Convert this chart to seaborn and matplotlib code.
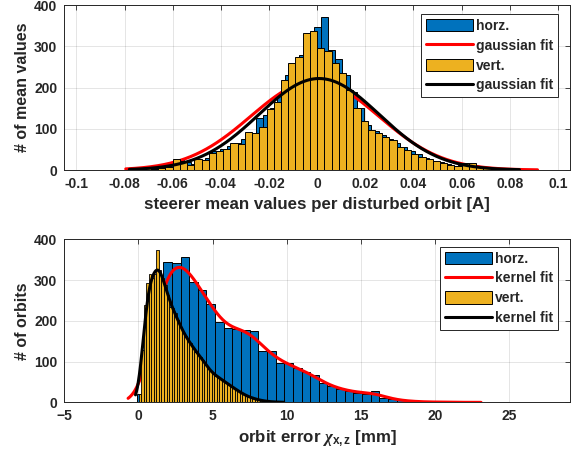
import numpy as np
import pandas as pd
import seaborn as sns
import matplotlib
matplotlib.use("Agg")
import matplotlib.pyplot as plt
from matplotlib.patches import Patch
from matplotlib.lines import Line2D

# ---------------- data: steerer mean values (top panel) ----------------
steer_bin_width = 0.003
# vertical plane: bins [k*w, (k+1)*w], k = -26 .. 27
vert_steer_first_bin = -26
vert_steer_counts = [2, 4, 4, 3, 5, 8, 26, 22, 12, 26, 24, 42, 47, 51, 65, 62,
                     93, 90, 104, 148, 166, 218, 259, 275, 333, 338,
                     297, 289, 259, 234, 194, 150, 120, 97, 90, 81, 73, 55, 48,
                     39, 31, 26, 23, 18, 13, 10, 16, 17, 8, 6, 3, 2, 5, 2]
# horizontal plane: bins centred on j*w, j = -26 .. 30
horz_steer_first_bin = -26
horz_steer_counts = [2, 2, 4, 3, 12, 8, 14, 24, 20, 14, 25, 30, 45, 52, 58, 66,
                     75, 90, 125, 133, 150, 180, 230, 250, 280, 333, 347, 370,
                     290, 270, 230, 190, 150, 110, 95, 85, 75, 65, 55, 45, 38,
                     28, 22, 20, 14, 10, 12, 8, 6, 3, 3, 2, 4, 0, 0, 0, 3]
# gaussian fit parameters (mean, sigma) in A
horz_fit = (-0.001, 0.0265)
vert_fit = (0.0008, 0.0250)

# ---------------- data: orbit error (bottom panel) ----------------
horz_err_start, horz_err_width = -0.08, 0.583
horz_err_counts = [20, 120, 280, 345, 343, 357, 296, 275, 241, 198, 182, 180,
                   178, 175, 125, 125, 96, 96, 84, 75, 67, 47, 40, 32, 29, 24,
                   21, 29, 12, 8, 5, 3, 2, 1, 1, 1, 1, 0, 0, 1]
vert_err_start, vert_err_width = 0.02, 0.17
vert_err_counts = [22, 129, 239, 292, 316, 304, 316, 375, 325, 304, 288, 263,
                   235, 231, 219, 202, 186, 174, 162, 153, 145, 137, 124, 120,
                   112, 104, 92, 84, 76, 71, 66, 62, 58, 53, 50, 45, 40, 36,
                   33, 28, 24, 20, 17, 14, 12, 10, 8, 6, 5, 4, 3, 2, 2, 1, 1,
                   1, 0, 1]

horz_kernel_bw, vert_kernel_bw = 0.75, 0.30
horz_kernel_range = (-0.7, 23.1)
vert_kernel_range = (-0.2, 9.8)

steer_ticks = [-0.1, -0.08, -0.06, -0.04, -0.02, 0, 0.02, 0.04, 0.06, 0.08, 0.1]
steer_tick_labels = ["-0.1", "-0.08", "-0.06", "-0.04", "-0.02", "0", "0.02",
                     "0.04", "0.06", "0.08", "0.1"]
err_ticks = [-5, 0, 5, 10, 15, 20, 25]
count_ticks = [0, 100, 200, 300, 400]

BLUE = "#0072BD"
YELLOW = "#EDB120"
INK = "#262626"

sns.set_style("white")
plt.rcParams["font.family"] = ["Liberation Sans", "DejaVu Sans"]
plt.rcParams["font.weight"] = "bold"
plt.rcParams["mathtext.fontset"] = "custom"
plt.rcParams["mathtext.rm"] = "Liberation Sans:bold"
plt.rcParams["mathtext.bf"] = "Liberation Sans:bold"
plt.rcParams["mathtext.it"] = "Liberation Serif:italic"


def edges_from(start, width, n):
    return start + width * np.arange(n + 1)


def draw_hist(ax, edges, counts, color, z, lw=0.7):
    counts = [float(v) for v in counts]
    centers = [0.5 * (a + b) for a, b in zip(edges[:-1], edges[1:])]
    df = pd.DataFrame({"x": centers, "n": counts})
    sns.histplot(data=df, x="x", weights="n", bins=[float(e) for e in edges],
                 color=color, edgecolor="black", linewidth=lw, alpha=1.0,
                 ax=ax, zorder=z)


def gauss_curve(edges, counts, fit):
    mu, sd = fit
    n = float(np.sum(counts))
    w = edges[1] - edges[0]
    x = np.linspace(edges[0], edges[-1], 400)
    y = n * w / (sd * np.sqrt(2 * np.pi)) * np.exp(-0.5 * ((x - mu) / sd) ** 2)
    return x, y


def kernel_curve(edges, counts, bw, xr):
    counts = np.asarray(counts, float)
    c = 0.5 * (edges[:-1] + edges[1:])
    w = edges[1] - edges[0]
    x = np.linspace(xr[0], xr[1], 500)
    k = np.exp(-0.5 * ((x[:, None] - c[None, :]) / bw) ** 2) / (bw * np.sqrt(2 * np.pi))
    y = (k * counts[None, :]).sum(axis=1) * w
    return x, y


def style_axes(ax):
    ax.set_axisbelow(True)
    ax.grid(True, color="black", alpha=0.12, linewidth=0.6)
    for s in ax.spines.values():
        s.set_color(INK)
        s.set_linewidth(0.7)
        s.set_visible(True)
    ax.tick_params(direction="in", top=True, right=True, length=3.5, width=0.6,
                   colors=INK, labelsize=10, pad=5)
    for t in ax.get_xticklabels() + ax.get_yticklabels():
        t.set_fontweight("bold")


fig = plt.figure(figsize=(5.88, 4.57), dpi=100)
ax1 = fig.add_axes([0.1094, 0.628, 0.8600, 0.361])
ax2 = fig.add_axes([0.1094, 0.1193, 0.8600, 0.357])

# ---- top panel: steerer mean values ----
v_edges = steer_bin_width * (vert_steer_first_bin + np.arange(len(vert_steer_counts) + 1))
h_edges = steer_bin_width * (horz_steer_first_bin - 0.5 + np.arange(len(horz_steer_counts) + 1))

draw_hist(ax1, h_edges, horz_steer_counts, BLUE, 1)
xh, yh = gauss_curve(h_edges, horz_steer_counts, horz_fit)
sns.lineplot(x=xh, y=yh, ax=ax1, color="red", linewidth=2.2, sort=False, zorder=2)
draw_hist(ax1, v_edges, vert_steer_counts, YELLOW, 3)
xv, yv = gauss_curve(v_edges, vert_steer_counts, vert_fit)
sns.lineplot(x=xv, y=yv, ax=ax1, color="black", linewidth=2.2, sort=False, zorder=4)

ax1.set_xlim(-0.105, 0.105)
ax1.set_ylim(0, 400)
ax1.set_xticks(steer_ticks)
ax1.set_xticklabels(steer_tick_labels)
ax1.set_yticks(count_ticks)
ax1.set_xlabel("steerer mean values per disturbed orbit [A]", fontsize=12.2,
               fontweight="bold", color=INK, labelpad=4)
ax1.set_ylabel("# of mean values", fontsize=11.5, fontweight="bold", color=INK,
               labelpad=3)
style_axes(ax1)

# ---- bottom panel: orbit error ----
he_edges = edges_from(horz_err_start, horz_err_width, len(horz_err_counts))
ve_edges = edges_from(vert_err_start, vert_err_width, len(vert_err_counts))

draw_hist(ax2, he_edges, horz_err_counts, BLUE, 1)
xk, yk = kernel_curve(he_edges, horz_err_counts, horz_kernel_bw, horz_kernel_range)
sns.lineplot(x=xk, y=yk, ax=ax2, color="red", linewidth=2.2, sort=False, zorder=2)
draw_hist(ax2, ve_edges, vert_err_counts, YELLOW, 3, lw=0.6)
xk2, yk2 = kernel_curve(ve_edges, vert_err_counts, vert_kernel_bw, vert_kernel_range)
sns.lineplot(x=xk2, y=yk2, ax=ax2, color="black", linewidth=2.2, sort=False, zorder=4)

ax2.set_xlim(-5, 29.1)
ax2.set_ylim(0, 400)
ax2.set_xticks(err_ticks)
ax2.set_yticks(count_ticks)
ax2.set_xlabel(r"orbit error $\chi_{\mathbf{x,z}}$ [mm]", fontsize=12.2,
               fontweight="bold", color=INK, labelpad=4)
ax2.set_ylabel("# of orbits", fontsize=11.5, fontweight="bold", color=INK,
               labelpad=3)
style_axes(ax2)


def add_legend(ax, fit_name, anchor):
    handles = [Patch(facecolor=BLUE, edgecolor="black", linewidth=0.7),
               Line2D([], [], color="red", linewidth=2.2),
               Patch(facecolor=YELLOW, edgecolor="black", linewidth=0.7),
               Line2D([], [], color="black", linewidth=2.2)]
    labels = ["horz.", fit_name, "vert.", fit_name]
    leg = ax.legend(handles, labels, loc="upper right", bbox_to_anchor=anchor,
                    fancybox=False, framealpha=1, edgecolor=INK,
                    prop={"size": 10, "weight": "bold"}, handlelength=3.4,
                    handleheight=1.0, handletextpad=0.2, labelspacing=0.42,
                    borderpad=0.35, borderaxespad=0)
    leg.get_frame().set_linewidth(0.7)
    for t in leg.get_texts():
        t.set_color(INK)


add_legend(ax1, "gaussian fit", (0.976, 0.945))
add_legend(ax2, "kernel fit", (0.976, 0.955))

fig.savefig("out.png", dpi=100)
